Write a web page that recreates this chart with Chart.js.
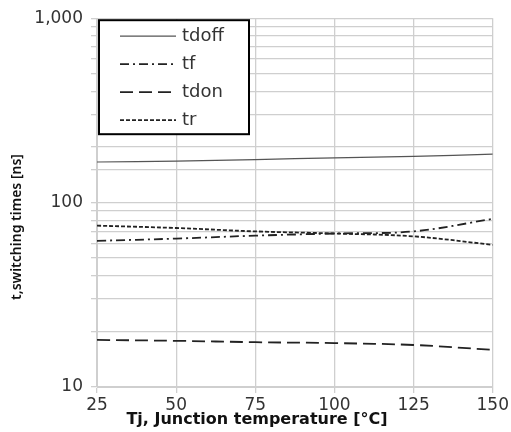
<!DOCTYPE html>
<html>
<head>
<meta charset="utf-8">
<script src="https://cdn.jsdelivr.net/npm/chart.js@4.4.1/dist/chart.umd.min.js"></script>
<style>
  html, body { margin: 0; padding: 0; background: #fff; }
  #wrap { width: 511px; height: 432px; }
</style>
</head>
<body>
<div id="wrap"><canvas id="lineChart" width="511" height="432"></canvas></div>
<script>
// junction temperature [°C]
var temps = [25, 50, 75, 100, 125, 150];

// switching times [ns]
var tdoff = [166, 168, 171, 175, 178, 183];
var tf    = [62, 63.8, 66.2, 68, 69.8, 81.6];
var tdon  = [18.0, 17.8, 17.5, 17.3, 16.9, 15.9];
var tr    = [75, 72.8, 69.8, 68, 65.6, 59];

var yLabels = [10, 100, 1000];
var xTitle = 'Tj, Junction temperature [°C]';
var yTitle = 't,switching times [ns]';

function pts(vals) {
  var out = [];
  for (var i = 0; i < temps.length; i++) out.push({x: temps[i], y: vals[i]});
  return out;
}

// legend drawn inside the plot, top-left, with a black frame
var boxLegend = {
  id: 'boxLegend',
  afterDraw: function (chart) {
    var ctx = chart.ctx, area = chart.chartArea;
    var x0 = area.left + 2, y0 = area.top + 2, w = 150, h = 114;
    ctx.save();
    ctx.fillStyle = '#fff';
    ctx.fillRect(x0, y0, w, h);
    ctx.lineWidth = 2;
    ctx.strokeStyle = '#000';
    ctx.strokeRect(x0, y0, w, h);
    ctx.font = '18px "DejaVu Sans"';
    ctx.textBaseline = 'middle';
    chart.data.datasets.forEach(function (ds, i) {
      var y = y0 + 16 + i * 28;
      ctx.beginPath();
      ctx.setLineDash(ds.borderDash || []);
      ctx.lineWidth = ds.borderWidth;
      ctx.strokeStyle = ds.borderColor;
      ctx.moveTo(x0 + 21, y);
      ctx.lineTo(x0 + 77, y);
      ctx.stroke();
      ctx.setLineDash([]);
      ctx.fillStyle = '#333';
      ctx.fillText(ds.label, x0 + 83, y);
    });
    ctx.restore();
  }
};

// axis titles, placed like in the original (not centred on the plot)
var axisTitles = {
  id: 'axisTitles',
  afterDraw: function (chart) {
    var ctx = chart.ctx;
    ctx.save();
    ctx.fillStyle = '#111';
    ctx.textAlign = 'center';
    ctx.textBaseline = 'middle';
    ctx.font = 'bold 16px "DejaVu Sans"';
    ctx.fillText(xTitle, 257, 420);
    ctx.translate(17, 227);
    ctx.rotate(-Math.PI / 2);
    ctx.font = '600 14px "Noto Sans"';
    ctx.fillText(yTitle, 0, 0);
    ctx.restore();
  }
};

var chartData = {
  datasets: [
    { label: 'tdoff', data: pts(tdoff), borderColor: '#555', borderWidth: 1.2, borderDash: [] },
    { label: 'tf', data: pts(tf), borderColor: '#222', borderWidth: 1.8, borderDash: [9, 4, 2, 4] },
    { label: 'tdon', data: pts(tdon), borderColor: '#222', borderWidth: 1.8, borderDash: [13, 6] },
    { label: 'tr', data: pts(tr), borderColor: '#222', borderWidth: 1.8, borderDash: [4, 2] }
  ]
};

new Chart(document.getElementById('lineChart'), {
  type: 'line',
  data: chartData,
  plugins: [boxLegend, axisTitles],
  options: {
    responsive: false,
    animation: false,
    layout: { padding: { top: 15, right: 18, left: 0, bottom: 0 } },
    elements: { point: { radius: 0 }, line: { tension: 0.35, fill: false } },
    plugins: { legend: { display: false }, tooltip: { enabled: false } },
    scales: {
      x: {
        type: 'linear',
        min: 25, max: 150,
        ticks: { stepSize: 25, color: '#333', font: { family: 'DejaVu Sans', size: 17 }, padding: 2 },
        grid: { color: '#cfcfcf', lineWidth: 1.3, tickLength: 6 },
        border: { color: '#cfcfcf' },
        afterFit: function (s) { s.height = 45; }
      },
      y: {
        type: 'logarithmic',
        min: 10, max: 1000,
        ticks: {
          color: '#333', font: { family: 'DejaVu Sans', size: 17 }, padding: 8,
          autoSkip: false,
          callback: function (v) { return yLabels.indexOf(v) >= 0 ? v.toLocaleString('en-US') : ''; }
        },
        grid: { color: '#cfcfcf', lineWidth: 1.3, tickLength: 6 },
        border: { color: '#cfcfcf' },
        afterFit: function (s) { s.width = 97; }
      }
    }
  }
});
</script>
</body>
</html>
